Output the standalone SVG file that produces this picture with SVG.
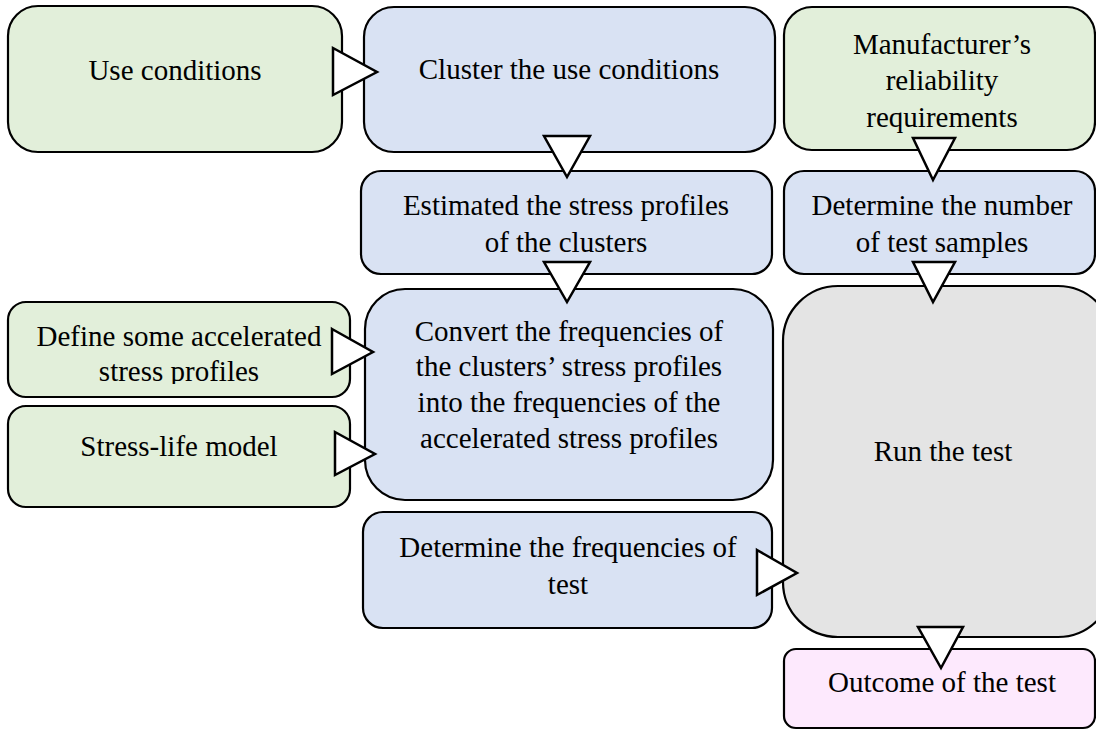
<svg xmlns="http://www.w3.org/2000/svg" width="1096" height="730" viewBox="0 0 1096 730">
<defs>
<style>
.box{stroke:#000;stroke-width:2.2}
.g{fill:#E2EFDA}
.b{fill:#D9E2F3}
.gr{fill:#E4E4E4}
.p{fill:#FDE9FD}
.t{font-family:"Liberation Serif","Times New Roman",serif;font-size:29px;fill:#000;text-anchor:middle}
.ar{fill:#fff;stroke:#000;stroke-width:2.5;stroke-linejoin:miter}
</style>
<clipPath id="clipDef"><rect x="0" y="300" width="360" height="84"/></clipPath>
</defs>
<rect width="1096" height="730" fill="#fff"/>
<g id="use-conditions">
<rect class="box g" x="8" y="6" width="334" height="146" rx="30"/>
<text class="t" x="175" y="80">Use conditions</text>
</g>
<g id="cluster">
<rect class="box b" x="364" y="7" width="411" height="145" rx="30"/>
<text class="t" x="569" y="79">Cluster the use conditions</text>
</g>
<g id="manufacturer">
<rect class="box g" x="784" y="7" width="311" height="143" rx="28"/>
<text class="t" x="942" y="54">Manufacturer’s</text>
<text class="t" x="942" y="90">reliability</text>
<text class="t" x="942" y="127">requirements</text>
</g>
<g id="estimated">
<rect class="box b" x="361" y="171" width="411" height="103" rx="20"/>
<text class="t" x="566" y="215">Estimated the stress profiles</text>
<text class="t" x="566" y="252">of the clusters</text>
</g>
<g id="number-samples">
<rect class="box b" x="784" y="171" width="311" height="103" rx="20"/>
<text class="t" x="942" y="215">Determine the number</text>
<text class="t" x="942" y="252">of test samples</text>
</g>
<g id="define">
<rect class="box g" x="8" y="302" width="342" height="95" rx="18"/>
<g clip-path="url(#clipDef)">
<text class="t" x="179" y="346">Define some accelerated</text>
<text class="t" x="179" y="381">stress profiles</text>
</g>
</g>
<g id="stress-life">
<rect class="box g" x="8" y="406" width="342" height="101" rx="18"/>
<text class="t" x="179" y="456">Stress-life model</text>
</g>
<g id="convert">
<rect class="box b" x="365" y="289" width="408" height="211" rx="40"/>
<text class="t" x="569" y="341">Convert the frequencies of</text>
<text class="t" x="569" y="376">the clusters’ stress profiles</text>
<text class="t" x="569" y="412">into the frequencies of the</text>
<text class="t" x="569" y="448">accelerated stress profiles</text>
</g>
<g id="frequencies-test">
<rect class="box b" x="363" y="512" width="409" height="116" rx="20"/>
<text class="t" x="568" y="557">Determine the frequencies of</text>
<text class="t" x="568" y="594">test</text>
</g>
<g id="run-test">
<rect class="box gr" x="783" y="286" width="330" height="351" rx="55"/>
<text class="t" x="943" y="461">Run the test</text>
</g>
<g id="outcome">
<rect class="box p" x="784" y="649" width="311" height="79" rx="12"/>
<text class="t" x="942" y="692">Outcome of the test</text>
</g>
<g id="connectors">
<polygon class="ar" points="333,48 377,72 333,95"/>
<polygon class="ar" points="544,136 590,136 567,177"/>
<polygon class="ar" points="544,262 590,262 567,302"/>
<polygon class="ar" points="913,138 955,138 933,180"/>
<polygon class="ar" points="913,262 955,262 933,302"/>
<polygon class="ar" points="332,329 373,352 332,374"/>
<polygon class="ar" points="335,432 375,454 335,475"/>
<polygon class="ar" points="757,550 797,573 757,595"/>
<polygon class="ar" points="918,627 963,627 941,668"/>
</g>
</svg>
